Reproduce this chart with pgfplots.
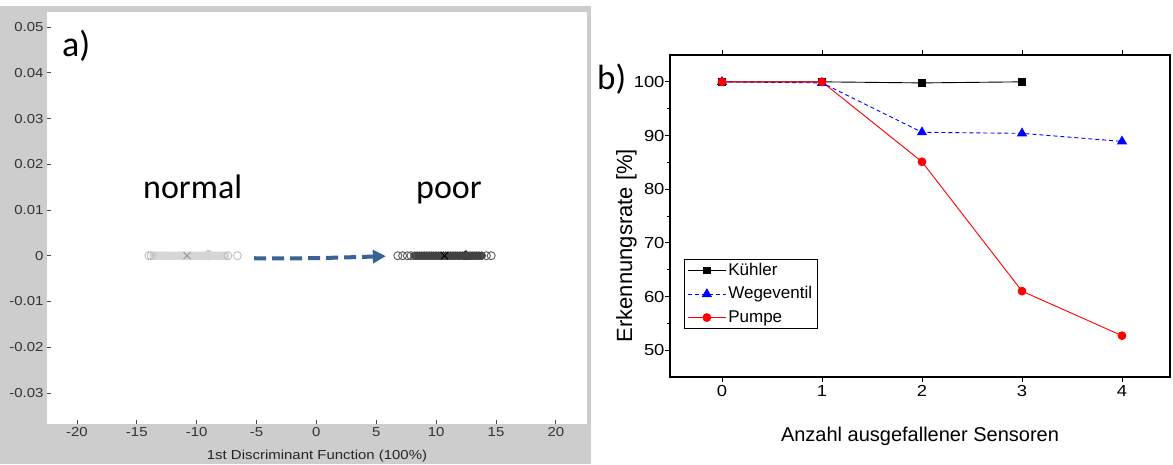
\documentclass[border=0pt]{standalone}
\usepackage{fontspec}
\setmainfont{Liberation Sans}
\newfontfamily\calib{Carlito}
\newfontfamily\tickfont[FakeStretch=1.15]{Liberation Sans}
\usepackage{pgfplots}
\pgfplotsset{compat=1.18}
\usetikzlibrary{arrows.meta}
\definecolor{mlgray}{HTML}{CDCDCD}
\definecolor{arrowblue}{HTML}{3B6295}
\definecolor{grpA}{HTML}{D6D6D6}
\definecolor{grpAedge}{HTML}{BDBDBD}
\definecolor{grpB}{HTML}{424242}
\definecolor{grpBedge}{HTML}{5A5A5A}

\begin{document}
\begin{tikzpicture}[x=1pt,y=1pt]
\path[use as bounding box, fill=white] (0,0) rectangle (1173,464);
\fill[mlgray] (0,0) rectangle (591,458);

% ===== panel a) : discriminant scatter =====
\begin{axis}[
 at={(47pt,40pt)}, anchor=south west, scale only axis,
 width=540pt, height=412pt,
 xmin=-22.5, xmax=22.6, ymin=-0.0368, ymax=0.0533,
 axis background/.style={fill=white},
 axis line style={draw=none},
 tick align=inside, tick pos=left, major tick length=4pt,
 tick style={black!70, line width=0.8pt},
 xtick={-20,-15,-10,-5,0,5,10,15,20},
 xticklabels={-20,-15,-10,-5,0,5,10,15,20},
 ytick={-0.03,-0.02,-0.01,0,0.01,0.02,0.03,0.04,0.05},
 yticklabels={-0.03,-0.02,-0.01,0,0.01,0.02,0.03,0.04,0.05},
 tick label style={font=\tickfont\fontsize{13}{13}\selectfont, text=black!80},
 xlabel={1st Discriminant Function (100\%)},
 xlabel style={font=\tickfont\fontsize{13}{13}\selectfont, text=black!85,
   at={(axis description cs:0.5,-0.085)}, anchor=base},
 clip=false,
]
% group 0 (normal): dense run of points forms a bar
\addplot[only marks, mark=*, mark size=4pt,
 mark options={draw=grpA, fill=grpA, line width=0.5pt}]
 coordinates {
 (-13.6,0)(-13.4,0)(-13.2,0)(-13.0,0)(-12.8,0)(-12.6,0)(-12.4,0)(-12.2,0)
 (-12.0,0)(-11.8,0)(-11.6,0)(-11.4,0)(-11.2,0)(-11.0,0)(-10.8,0)(-10.6,0)
 (-10.4,0)(-10.2,0)(-10.0,0)(-9.8,0)(-9.6,0)(-9.4,0)(-9.2,0)(-9.0,0)
 (-8.8,0)(-8.6,0)(-8.4,0)(-8.2,0)(-8.0,0)(-7.8,0)(-7.6,0)};
\addplot[only marks, mark=o, mark size=4pt,
 mark options={draw=grpAedge, line width=0.9pt}]
 coordinates {(-14.0,0)(-13.8,0)(-7.4,0)(-6.6,0)};
% group 1 (poor)
\addplot[only marks, mark=*, mark size=4pt,
 mark options={draw=grpB, fill=grpB, line width=0.5pt}]
 coordinates {
 (8.2,0)(8.4,0)(8.6,0)(8.8,0)(9.0,0)(9.2,0)(9.4,0)(9.6,0)(9.8,0)
 (10.0,0)(10.2,0)(10.4,0)(10.6,0)(10.8,0)(11.0,0)(11.2,0)(11.4,0)
 (11.6,0)(11.8,0)(12.0,0)(12.2,0)(12.4,0)(12.6,0)(12.8,0)(13.0,0)
 (13.2,0)(13.4,0)(13.6,0)(13.8,0)};
\addplot[only marks, mark=o, mark size=4pt,
 mark options={draw=grpBedge, line width=0.9pt}]
 coordinates {(6.8,0)(7.2,0)(7.6,0)(7.9,0)(14.2,0)(14.6,0)};
% centroids
\addplot[only marks, mark=x, mark size=5pt,
 mark options={draw=black!40, line width=0.9pt}] coordinates {(-10.8,0)};
\addplot[only marks, mark=x, mark size=5pt,
 mark options={draw=black, line width=0.9pt}] coordinates {(10.7,0)};
\node[anchor=west, inner sep=0pt, font=\fontsize{14}{14}\selectfont, text=black!35]
 at (axis cs:-10.2,0) {--\,0};
\node[anchor=west, inner sep=0pt, font=\fontsize{14}{14}\selectfont, text=black]
 at (axis cs:11.3,0) {--\,1};
% arrow normal -> poor
\draw[arrowblue, line width=4pt, dash pattern=on 12pt off 6pt,
 -{Triangle[length=13pt,width=13pt]}]
 (axis cs:-5.2,-0.00055) .. controls (axis cs:-1,-0.0007) and (axis cs:2,-0.0004)
 .. (axis cs:5.8,-0.0001);
\end{axis}

\node[anchor=base west, inner sep=0pt, font=\calib\fontsize{36}{36}\selectfont]
 at (62,407) {a)};
\node[anchor=base west, inner sep=0pt, font=\calib\fontsize{34}{34}\selectfont]
 at (143,265) {normal};
\node[anchor=base west, inner sep=0pt, font=\calib\fontsize{34}{34}\selectfont]
 at (416,265) {poor};

% ===== panel b) : detection rate =====
\begin{axis}[
 at={(670pt,87pt)}, anchor=south west, scale only axis,
 width=500pt, height=322pt,
 xmin=-0.52, xmax=4.48, ymin=45, ymax=105,
 xtick={0,1,2,3,4}, xticklabels={0,1,2,3,4},
 ytick={50,60,70,80,90,100}, yticklabels={50,60,70,80,90,100},
 minor y tick num=1,
 xtick pos=both, ytick pos=left,
 tick align=outside, major tick length=5pt, minor tick length=3pt,
 axis line style={line width=1.1pt},
 tick style={line width=0.9pt, black},
 tick label style={font=\tickfont\fontsize{16}{16}\selectfont},
 yticklabel style={xshift=3pt},
 xlabel={Anzahl ausgefallener Sensoren},
 ylabel={Erkennungsrate [\%]},
 xlabel style={font=\fontsize{20}{20}\selectfont,
   at={(axis description cs:0.5,-0.199)}, anchor=base},
 ylabel style={font=\fontsize{22}{22}\selectfont,
   at={(axis description cs:-0.076,0.408)}, anchor=base},
 legend style={at={(rel axis cs:0.028,0.366)}, anchor=north west,
   draw=black, line width=0.8pt, font=\fontsize{17}{17}\selectfont,
   inner xsep=3pt, inner ysep=1pt, row sep=3.5pt,
   nodes={inner sep=2pt, text height=12.5pt, text depth=3.5pt}},
 legend cell align=left,
 legend image code/.code={\draw[mark repeat=2, mark phase=2, #1]
   plot coordinates {(0pt,0pt) (19pt,0pt) (38pt,0pt)};},
]
\addplot[black, line width=0.9pt, mark=square*, mark size=3.3pt,
 mark options={solid, fill=black}]
 coordinates {(0,100) (1,100) (2,99.8) (3,100)};
\addlegendentry{Kühler}
\addplot[blue, line width=0.9pt, dash pattern=on 4pt off 3pt, mark=triangle*,
 mark size=5pt, mark options={solid, fill=blue}]
 coordinates {(0,100) (1,99.8) (2,90.6) (3,90.4) (4,88.9)};
\addlegendentry{Wegeventil}
\addplot[red, line width=0.9pt, mark=*, mark size=3.9pt,
 mark options={solid, fill=red}]
 coordinates {(0,100) (1,100) (2,85.1) (3,61.0) (4,52.7)};
\addlegendentry{Pumpe}
\end{axis}

\node[anchor=base west, inner sep=0pt, font=\calib\fontsize{35}{35}\selectfont]
 at (597,374) {b)};
\end{tikzpicture}
\end{document}
